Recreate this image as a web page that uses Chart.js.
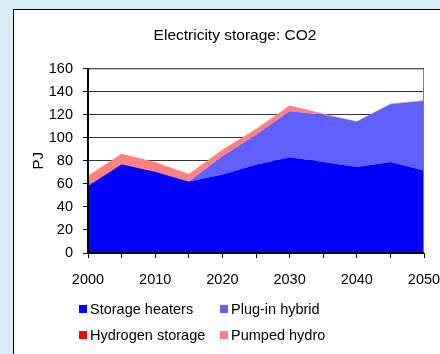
<!DOCTYPE html>
<html>
<head>
<meta charset="utf-8">
<script src="https://cdn.jsdelivr.net/npm/chart.js@4"></script>
<style>
  html, body {
    margin: 0;
    padding: 0;
    width: 440px;
    height: 354px;
    overflow: hidden;
    background: #d6eef4;
    font-family: Arial, "Liberation Sans", sans-serif;
  }
  #panel {
    position: absolute;
    left: 13px;
    top: 9px;
    width: 440px;
    height: 360px;
    background: #fff;
    border: 1px solid #000;
  }
  #storage-chart {
    position: absolute;
    left: 0;
    top: 0;
  }
  #chart-title {
    position: absolute;
    left: 121px;
    top: 16px;
    width: 200px;
    line-height: 18px;
    text-align: center;
    font-size: 15.5px;
    color: #000;
    white-space: nowrap;
  }
  .legend-item {
    position: absolute;
    display: flex;
    align-items: center;
    height: 16px;
    font-size: 14.5px;
    color: #000;
    white-space: nowrap;
  }
  .legend-item span.box {
    display: inline-block;
    width: 8px;
    height: 8px;
    margin-right: 3px;
  }
</style>
</head>
<body>
<div id="panel">
  <canvas id="storage-chart" width="440" height="300"></canvas>
  <div id="chart-title">Electricity storage: CO2</div>
  <div id="legend"></div>
</div>
<script>
// Anos (passo de 5) e séries empilhadas, em PJ
const years = ['2000', '2005', '2010', '2015', '2020', '2025', '2030', '2035', '2040', '2045', '2050'];
const storageHeaters = [58, 77, 70.5, 62, 68, 76.5, 83, 79, 74.5, 79, 71.5];
const plugInHybrid = [0, 0, 0, 0, 16, 26, 40, 41, 39.5, 50, 60.5];
const hydrogenStorage = [0, 0, 0, 0, 0, 0, 0, 0, 0, 0, 0];
const pumpedHydro = [9, 9, 8.5, 6.5, 5.5, 5, 5, 1, 0.3, 0.6, 0.5];
const yTicks = [0, 20, 40, 60, 80, 100, 120, 140, 160];

const seriesNames = ['Storage heaters', 'Plug-in hybrid', 'Hydrogen storage', 'Pumped hydro'];
const seriesColors = ['#0000ff', '#6060ff', '#ff0000', '#ff8080'];
const seriesData = [storageHeaters, plugInHybrid, hydrogenStorage, pumpedHydro];

Chart.defaults.font.family = 'Arial, "Liberation Sans", sans-serif';
Chart.defaults.font.size = 14.5;
Chart.defaults.color = '#000';

// Moldura da área do gráfico: eixos pretos por cima das áreas, topo/direita em cinza
const plotFrame = {
  id: 'plotFrame',
  afterDatasetsDraw(chart) {
    const { ctx, chartArea: a } = chart;
    ctx.save();
    ctx.lineWidth = 1;
    ctx.strokeStyle = '#808080';
    ctx.beginPath();
    ctx.moveTo(a.left, a.top + 0.5);
    ctx.lineTo(a.right - 0.5, a.top + 0.5);
    ctx.lineTo(a.right - 0.5, a.bottom);
    ctx.stroke();
    ctx.lineWidth = 2;
    ctx.strokeStyle = '#000';
    ctx.beginPath();
    ctx.moveTo(a.left, a.top);
    ctx.lineTo(a.left, a.bottom);
    ctx.lineTo(a.right, a.bottom);
    ctx.stroke();
    ctx.restore();
  }
};

const datasets = seriesData.map((data, i) => ({
  label: seriesNames[i],
  data: data,
  backgroundColor: seriesColors[i],
  borderColor: 'rgba(0,0,0,0)',
  borderWidth: 0,
  pointRadius: 0,
  tension: 0,
  fill: i === 0 ? 'origin' : '-1'
}));

new Chart(document.getElementById('storage-chart'), {
  type: 'line',
  data: { labels: years, datasets: datasets },
  plugins: [plotFrame],
  options: {
    responsive: false,
    animation: false,
    layout: { padding: { left: 10, right: 30, top: 58.5, bottom: 24 } },
    plugins: {
      legend: { display: false },
      tooltip: { enabled: false },
      title: { display: false }
    },
    scales: {
      x: {
        offset: false,
        border: { display: false },
        grid: { drawOnChartArea: false, drawTicks: true, tickLength: 5, tickColor: '#000' },
        ticks: {
          autoSkip: false,
          maxRotation: 0,
          padding: 13,
          callback: (v, i) => (i % 2 ? '' : years[i])
        },
        afterFit(scale) { scale.height = 33; }
      },
      y: {
        stacked: true,
        min: 0,
        max: 160,
        border: { display: false },
        grid: { color: '#333', lineWidth: 1, tickLength: 5, tickColor: '#000' },
        ticks: {
          stepSize: 20,
          padding: 10,
          callback: (v) => (yTicks.includes(v) ? String(v) : '')
        },
        title: {
          display: true,
          text: 'PJ',
          font: { size: 15 },
          color: '#000',
          padding: { top: 6, bottom: 0 }
        },
        afterFit(scale) { scale.width = 64; }
      }
    }
  }
});

// Legenda em duas colunas
const legendPos = [[65, 291], [206, 291], [65, 317], [206, 317]];
const legendEl = document.getElementById('legend');
seriesNames.forEach((name, i) => {
  const item = document.createElement('div');
  item.className = 'legend-item';
  item.style.left = legendPos[i][0] + 'px';
  item.style.top = legendPos[i][1] + 'px';
  item.innerHTML = '<span class="box" style="background:' + seriesColors[i] + '"></span>' + name;
  legendEl.appendChild(item);
});
</script>
</body>
</html>
